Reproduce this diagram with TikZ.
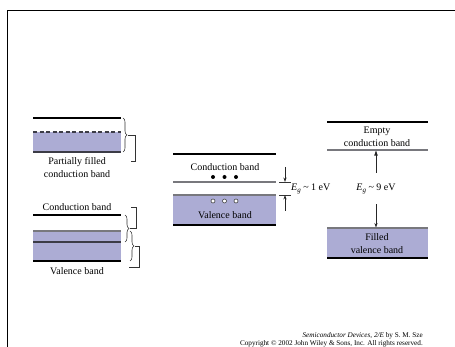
\documentclass[tikz,border=0pt]{standalone}
\usepackage{fontspec}
\setmainfont{Liberation Serif}
\usetikzlibrary{arrows.meta,decorations.pathreplacing}
\definecolor{bandfill}{RGB}{172,172,212}
\definecolor{edgegray}{RGB}{120,120,125}
\definecolor{darkedge}{RGB}{60,60,70}
\tikzset{
  lbl/.style={font=\fontsize{10}{11}\selectfont, inner sep=0pt},
  foot/.style={font=\fontsize{7.2}{8}\selectfont, inner sep=0pt, anchor=east},
  blackline/.style={line width=1.4pt, black},
  grayline/.style={line width=1.2pt, edgegray},
  darkline/.style={line width=1.2pt, darkedge},
  band/.style={fill=bandfill, draw=none},
  bracestyle/.style={decorate, decoration={brace, amplitude=4pt}, line width=0.55pt, black!80},
  bracket/.style={line width=0.6pt, black!80},
  arr/.style={line width=0.8pt, black!85, -{Stealth[length=4.5pt,width=3.2pt]}},
  tick/.style={line width=0.6pt, black!80},
  dotf/.style={circle, fill=black, inner sep=0pt, minimum size=4pt},
  doto/.style={circle, draw=black!75, line width=0.6pt, fill=white, inner sep=0pt, minimum size=4pt},
}
\begin{document}
\begin{tikzpicture}[x=1pt, y=-1pt]
\useasboundingbox (0,0) rectangle (455,347);
% frame
\draw[line width=1pt] (7,347) -- (7,11) -- (455,11);

% ---------- left panel 1 ----------
\fill[band] (33,132) rectangle (121,152);
\draw[blackline] (33,118) -- (121,118);
\draw[darkline, dash pattern=on 4pt off 2.5pt] (33,132) -- (121,132);
\draw[darkline] (33,152) -- (121,152);
\node[lbl] (pf1) at (77,162) {Partially filled};
\node[lbl] (pf2) at (77,174) {conduction band};
\coordinate (b1t) at (123,118);
\coordinate (b1b) at (123,152);
\draw[bracestyle] (b1t) -- (b1b);
\draw[bracket] (128,135) -- (135,135) -- (135,161) -- (131,161);

% ---------- left panel 2 ----------
\node[lbl] (cb2) at (77,207) {Conduction band};
\draw[blackline] (33,215) -- (121,215);
\fill[band] (33,231) rectangle (121,261);
\draw[grayline] (33,231) -- (121,231);
\draw[darkline] (33,242) -- (121,242);
\draw[blackline] (33,261) -- (121,261);
\node[lbl] (vb2) at (77,271) {Valence band};
\coordinate (b2t) at (125,215);
\coordinate (b2b) at (125,242);
\draw[bracestyle] (b2t) -- (b2b);
\draw[bracket] (131,207) -- (136,207) -- (136,228) -- (130,228);
\coordinate (b3t) at (130,231);
\coordinate (b3b) at (130,261);
\draw[bracestyle] (b3t) -- (b3b);
\draw[bracket] (135,246) -- (139,246) -- (139,267) -- (129,267);

% ---------- middle panel ----------
\draw[blackline] (173,154) -- (276,154);
\node[lbl] (cbm) at (225,167) {Conduction band};
\node[dotf] (e1) at (213,177) {};
\node[dotf] (e2) at (224.5,177) {};
\node[dotf] (e3) at (236,177) {};
\draw[grayline] (173,182) -- (276,182);
\fill[band] (173,195) rectangle (276,225);
\draw[grayline] (173,195) -- (276,195);
\draw[blackline] (173,225) -- (276,225);
\node[doto] (h1) at (213,201) {};
\node[doto] (h2) at (224.5,201) {};
\node[doto] (h3) at (236,201) {};
\node[lbl] (vbm) at (225,215) {Valence band};
\draw[tick] (279,182) -- (291,182);
\draw[tick] (279,195) -- (291,195);
\coordinate (m1s) at (285,167);
\coordinate (m1e) at (285,182);
\coordinate (m2s) at (285,211);
\coordinate (m2e) at (285,195);
\draw[arr] (m1s) -- (m1e);
\draw[arr] (m2s) -- (m2e);
\node[lbl, anchor=west] (eg1) at (291,188.5) {\textit{E}\raisebox{-0.45ex}{\fontsize{7}{7}\selectfont\textit{g}} \textasciitilde\ 1 eV};

% ---------- right panel ----------
\draw[blackline] (327,122) -- (428,122);
\node[lbl] (em1) at (377,131) {Empty};
\node[lbl] (em2) at (377,143) {conduction band};
\draw[grayline] (327,150) -- (428,150);
\fill[band] (327,228) rectangle (428,258);
\draw[grayline] (327,228) -- (428,228);
\draw[blackline] (327,258) -- (428,258);
\node[lbl] (fv1) at (377,237) {Filled};
\node[lbl] (fv2) at (377,250) {valence band};
\coordinate (ctr) at (376,189);
\coordinate (upE) at (376,151);
\coordinate (dnE) at (376,227.5);
\draw[arr] (ctr) -- (upE);
\draw[arr] (ctr) -- (dnE);
\node[lbl, fill=white, inner xsep=2pt, inner ysep=0pt, minimum height=31pt] (eg9) at (ctr) {\textit{E}\raisebox{-0.45ex}{\fontsize{7}{7}\selectfont\textit{g}} \textasciitilde\ 9 eV};
% upper arrow drawn again on top, shaft and head as filled shapes
\fill[black!85] (eg9.north -| upE) ++(-0.45,0) rectangle ([xshift=0.45pt, yshift=-4pt]upE);
\fill[black!85] (upE) -- ++(-1.7,4.6) -- ++(3.4,0) -- cycle;

% ---------- footer ----------
\node[foot] (f1) at (423,336) {\textit{Semiconductor Devices, 2/E} by S. M. Sze};
\node[foot] (f2) at (423,344) {Copyright \textcopyright\ 2002 John Wiley \& Sons, Inc. All rights reserved.};
\end{tikzpicture}
\end{document}
